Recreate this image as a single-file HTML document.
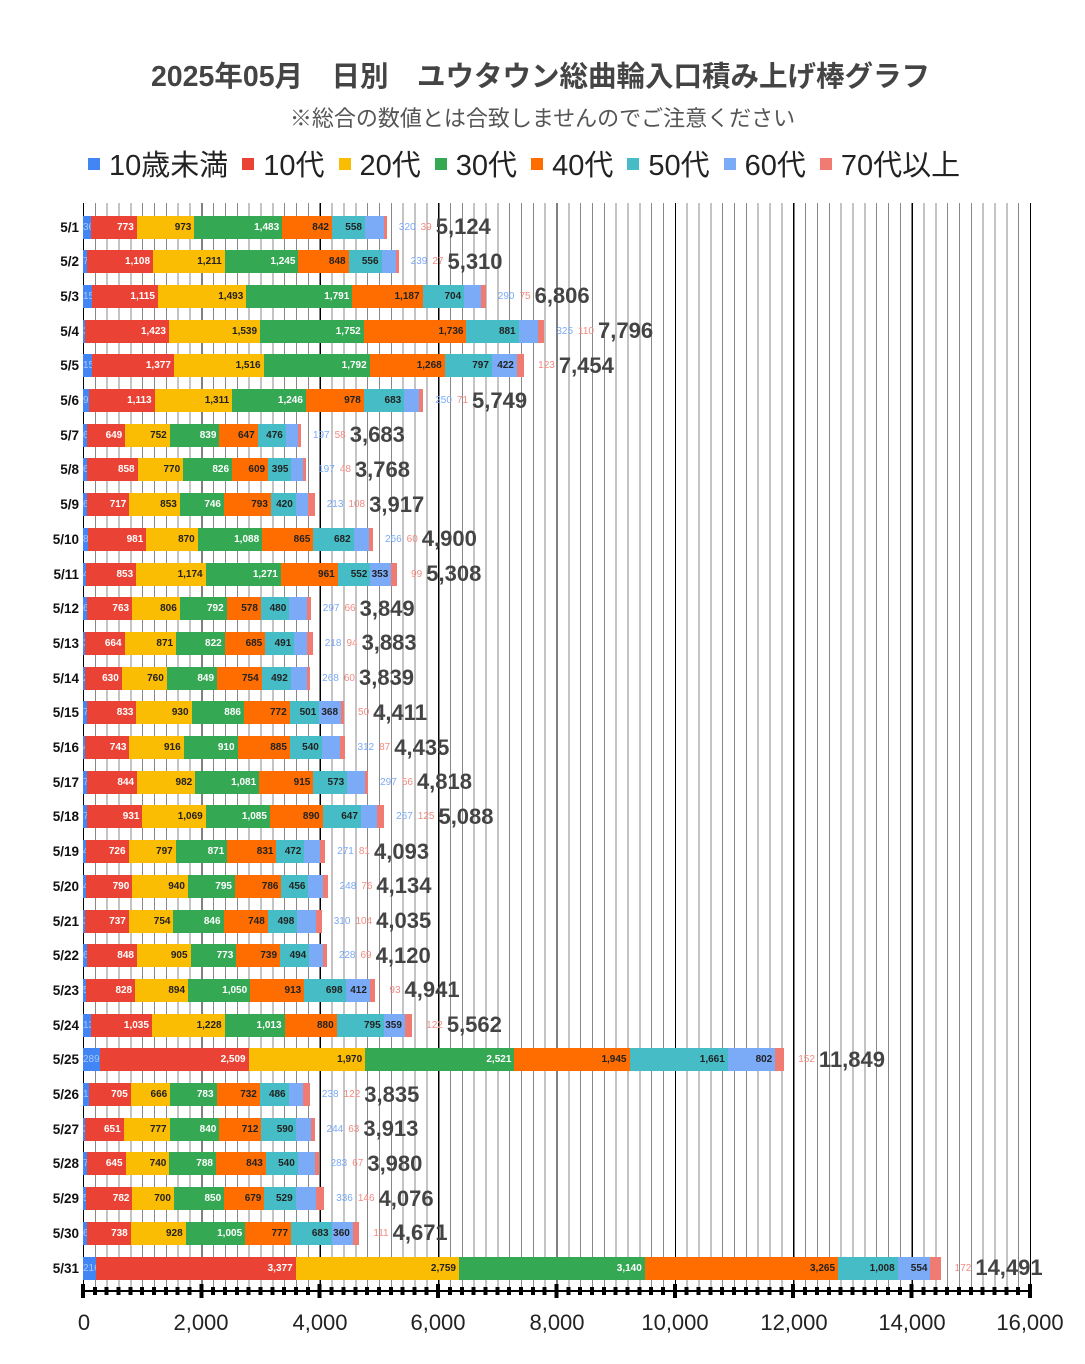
<!DOCTYPE html>
<html><head><meta charset="utf-8"><style>
*{margin:0;padding:0;box-sizing:border-box}
body{width:1085px;height:1364px;background:#fff;position:relative;overflow:hidden;font-family:"Liberation Sans","Noto Sans CJK JP",sans-serif}
.title{position:absolute;top:54px;left:0;width:1085px;text-align:center;font-size:28.5px;font-weight:bold;color:#444;padding-right:4px}
.sub{position:absolute;top:101px;left:0;width:1085px;text-align:center;font-size:22px;color:#555}
.leg{position:absolute;top:142px;left:88px;font-size:29px;color:#222;white-space:nowrap}
.leg span{margin-right:14px}
.leg b{display:inline-block;width:12px;height:12px;margin-right:9px;vertical-align:5px}
.grid{position:absolute;left:83px;top:203px;width:949px;height:1088px;
background:repeating-linear-gradient(90deg,#000 0,#000 1.2px,transparent 1.2px,transparent 118.375px),
repeating-linear-gradient(90deg,#888 0,#888 1px,transparent 1px,transparent 11.8375px)}
.axis{position:absolute;left:82px;top:1290px;width:950px;height:2px;background:#000}
.ticks{position:absolute;left:81px;top:1287px;width:953px;height:8px;
background:repeating-linear-gradient(90deg,#000 0,#000 4px,transparent 4px,transparent 11.8375px)}
.mticks{position:absolute;left:81px;top:1284px;width:953px;height:14px;
background:repeating-linear-gradient(90deg,#000 0,#000 4px,transparent 4px,transparent 118.375px)}
.xl{position:absolute;top:1310px;font-size:22px;color:#222;width:100px;text-align:center;margin-left:-50px}
.r{position:absolute;left:83px;height:23px;display:flex;align-items:center;white-space:nowrap}
.d{position:absolute;right:100%;margin-right:4px;font-size:13.5px;font-weight:bold;color:#111;z-index:2}
.b{display:flex;height:23px}
.b i{font-style:normal;display:flex;justify-content:flex-end;align-items:center;height:23px;width:calc(var(--v)*0.0591875px);font-size:10px;font-weight:bold;padding-right:3px;overflow:hidden;flex:none}
.b i.c0{overflow:visible;justify-content:flex-start;padding:0;color:#a8c7fa;font-weight:normal;background:#4285f4}
.c1{background:#ea4335;color:#fff}.c2{background:#fbbc04;color:#222}.c3{background:#34a853;color:#fff}
.c4{background:#ff6d01;color:#222}.c5{background:#46bdc6;color:#222}.c6{background:#7baaf7;color:#222}.c7{background:#f07b72}
.o6{font-size:10px;color:#7baaf7;margin-left:12px}
.o7{font-size:10px;color:#f28b82;margin-left:5px}
.t{font-size:22px;font-weight:bold;color:#444;margin-left:4px}
.first{margin-left:14px}
</style></head><body>
<div class="title">2025年05月　日別　ユウタウン総曲輪入口積み上げ棒グラフ</div>
<div class="sub">※総合の数値とは合致しませんのでご注意ください</div>
<div class="leg"><span><b style="background:#4285f4"></b>10歳未満</span><span><b style="background:#ea4335"></b>10代</span><span><b style="background:#fbbc04"></b>20代</span><span><b style="background:#34a853"></b>30代</span><span><b style="background:#ff6d01"></b>40代</span><span><b style="background:#46bdc6"></b>50代</span><span><b style="background:#7baaf7"></b>60代</span><span><b style="background:#f07b72"></b>70代以上</span></div>
<div class="grid"></div>
<div class="axis"></div><div class="ticks"></div><div class="mticks"></div>
<div class="xl" style="left:84px">0</div><div class="xl" style="left:201px">2,000</div><div class="xl" style="left:320px">4,000</div><div class="xl" style="left:438px">6,000</div><div class="xl" style="left:557px">8,000</div><div class="xl" style="left:675px">10,000</div><div class="xl" style="left:794px">12,000</div><div class="xl" style="left:912px">14,000</div><div class="xl" style="left:1030px">16,000</div>

<div class="r" style="top:215.5px"><span class="d">5/1</span><div class="b"><i class="c0" style="--v:136">36</i><i class="c1" style="--v:773">773</i><i class="c2" style="--v:973">973</i><i class="c3" style="--v:1483">1,483</i><i class="c4" style="--v:842">842</i><i class="c5" style="--v:558">558</i><i class="c6" style="--v:320"></i><i class="c7" style="--v:39"></i></div><span class="o6">320</span><span class="o7">39</span><span class="t">5,124</span></div>
<div class="r" style="top:250.2px"><span class="d">5/2</span><div class="b"><i class="c0" style="--v:76">76</i><i class="c1" style="--v:1108">1,108</i><i class="c2" style="--v:1211">1,211</i><i class="c3" style="--v:1245">1,245</i><i class="c4" style="--v:848">848</i><i class="c5" style="--v:556">556</i><i class="c6" style="--v:239"></i><i class="c7" style="--v:27"></i></div><span class="o6">239</span><span class="o7">27</span><span class="t">5,310</span></div>
<div class="r" style="top:284.9px"><span class="d">5/3</span><div class="b"><i class="c0" style="--v:151">151</i><i class="c1" style="--v:1115">1,115</i><i class="c2" style="--v:1493">1,493</i><i class="c3" style="--v:1791">1,791</i><i class="c4" style="--v:1187">1,187</i><i class="c5" style="--v:704">704</i><i class="c6" style="--v:290"></i><i class="c7" style="--v:75"></i></div><span class="o6">290</span><span class="o7">75</span><span class="t">6,806</span></div>
<div class="r" style="top:319.6px"><span class="d">5/4</span><div class="b"><i class="c0" style="--v:30">30</i><i class="c1" style="--v:1423">1,423</i><i class="c2" style="--v:1539">1,539</i><i class="c3" style="--v:1752">1,752</i><i class="c4" style="--v:1736">1,736</i><i class="c5" style="--v:881">881</i><i class="c6" style="--v:325"></i><i class="c7" style="--v:110"></i></div><span class="o6">325</span><span class="o7">110</span><span class="t">7,796</span></div>
<div class="r" style="top:354.3px"><span class="d">5/5</span><div class="b"><i class="c0" style="--v:159">159</i><i class="c1" style="--v:1377">1,377</i><i class="c2" style="--v:1516">1,516</i><i class="c3" style="--v:1792">1,792</i><i class="c4" style="--v:1268">1,268</i><i class="c5" style="--v:797">797</i><i class="c6" style="--v:422">422</i><i class="c7" style="--v:123"></i></div><span class="o7 first">123</span><span class="t">7,454</span></div>
<div class="r" style="top:389.0px"><span class="d">5/6</span><div class="b"><i class="c0" style="--v:97">97</i><i class="c1" style="--v:1113">1,113</i><i class="c2" style="--v:1311">1,311</i><i class="c3" style="--v:1246">1,246</i><i class="c4" style="--v:978">978</i><i class="c5" style="--v:683">683</i><i class="c6" style="--v:250"></i><i class="c7" style="--v:71"></i></div><span class="o6">250</span><span class="o7">71</span><span class="t">5,749</span></div>
<div class="r" style="top:423.7px"><span class="d">5/7</span><div class="b"><i class="c0" style="--v:65">65</i><i class="c1" style="--v:649">649</i><i class="c2" style="--v:752">752</i><i class="c3" style="--v:839">839</i><i class="c4" style="--v:647">647</i><i class="c5" style="--v:476">476</i><i class="c6" style="--v:197"></i><i class="c7" style="--v:58"></i></div><span class="o6">197</span><span class="o7">58</span><span class="t">3,683</span></div>
<div class="r" style="top:458.4px"><span class="d">5/8</span><div class="b"><i class="c0" style="--v:65">65</i><i class="c1" style="--v:858">858</i><i class="c2" style="--v:770">770</i><i class="c3" style="--v:826">826</i><i class="c4" style="--v:609">609</i><i class="c5" style="--v:395">395</i><i class="c6" style="--v:197"></i><i class="c7" style="--v:48"></i></div><span class="o6">197</span><span class="o7">48</span><span class="t">3,768</span></div>
<div class="r" style="top:493.1px"><span class="d">5/9</span><div class="b"><i class="c0" style="--v:67">67</i><i class="c1" style="--v:717">717</i><i class="c2" style="--v:853">853</i><i class="c3" style="--v:746">746</i><i class="c4" style="--v:793">793</i><i class="c5" style="--v:420">420</i><i class="c6" style="--v:213"></i><i class="c7" style="--v:108"></i></div><span class="o6">213</span><span class="o7">108</span><span class="t">3,917</span></div>
<div class="r" style="top:527.8px"><span class="d">5/10</span><div class="b"><i class="c0" style="--v:88">88</i><i class="c1" style="--v:981">981</i><i class="c2" style="--v:870">870</i><i class="c3" style="--v:1088">1,088</i><i class="c4" style="--v:865">865</i><i class="c5" style="--v:682">682</i><i class="c6" style="--v:266"></i><i class="c7" style="--v:60"></i></div><span class="o6">266</span><span class="o7">60</span><span class="t">4,900</span></div>
<div class="r" style="top:562.5px"><span class="d">5/11</span><div class="b"><i class="c0" style="--v:45">45</i><i class="c1" style="--v:853">853</i><i class="c2" style="--v:1174">1,174</i><i class="c3" style="--v:1271">1,271</i><i class="c4" style="--v:961">961</i><i class="c5" style="--v:552">552</i><i class="c6" style="--v:353">353</i><i class="c7" style="--v:99"></i></div><span class="o7 first">99</span><span class="t">5,308</span></div>
<div class="r" style="top:597.2px"><span class="d">5/12</span><div class="b"><i class="c0" style="--v:67">67</i><i class="c1" style="--v:763">763</i><i class="c2" style="--v:806">806</i><i class="c3" style="--v:792">792</i><i class="c4" style="--v:578">578</i><i class="c5" style="--v:480">480</i><i class="c6" style="--v:297"></i><i class="c7" style="--v:66"></i></div><span class="o6">297</span><span class="o7">66</span><span class="t">3,849</span></div>
<div class="r" style="top:631.9px"><span class="d">5/13</span><div class="b"><i class="c0" style="--v:38">38</i><i class="c1" style="--v:664">664</i><i class="c2" style="--v:871">871</i><i class="c3" style="--v:822">822</i><i class="c4" style="--v:685">685</i><i class="c5" style="--v:491">491</i><i class="c6" style="--v:218"></i><i class="c7" style="--v:94"></i></div><span class="o6">218</span><span class="o7">94</span><span class="t">3,883</span></div>
<div class="r" style="top:666.6px"><span class="d">5/14</span><div class="b"><i class="c0" style="--v:26">26</i><i class="c1" style="--v:630">630</i><i class="c2" style="--v:760">760</i><i class="c3" style="--v:849">849</i><i class="c4" style="--v:754">754</i><i class="c5" style="--v:492">492</i><i class="c6" style="--v:268"></i><i class="c7" style="--v:60"></i></div><span class="o6">268</span><span class="o7">60</span><span class="t">3,839</span></div>
<div class="r" style="top:701.3px"><span class="d">5/15</span><div class="b"><i class="c0" style="--v:71">71</i><i class="c1" style="--v:833">833</i><i class="c2" style="--v:930">930</i><i class="c3" style="--v:886">886</i><i class="c4" style="--v:772">772</i><i class="c5" style="--v:501">501</i><i class="c6" style="--v:368">368</i><i class="c7" style="--v:50"></i></div><span class="o7 first">50</span><span class="t">4,411</span></div>
<div class="r" style="top:736.0px"><span class="d">5/16</span><div class="b"><i class="c0" style="--v:42">42</i><i class="c1" style="--v:743">743</i><i class="c2" style="--v:916">916</i><i class="c3" style="--v:910">910</i><i class="c4" style="--v:885">885</i><i class="c5" style="--v:540">540</i><i class="c6" style="--v:312"></i><i class="c7" style="--v:87"></i></div><span class="o6">312</span><span class="o7">87</span><span class="t">4,435</span></div>
<div class="r" style="top:770.7px"><span class="d">5/17</span><div class="b"><i class="c0" style="--v:70">70</i><i class="c1" style="--v:844">844</i><i class="c2" style="--v:982">982</i><i class="c3" style="--v:1081">1,081</i><i class="c4" style="--v:915">915</i><i class="c5" style="--v:573">573</i><i class="c6" style="--v:297"></i><i class="c7" style="--v:56"></i></div><span class="o6">297</span><span class="o7">56</span><span class="t">4,818</span></div>
<div class="r" style="top:805.4px"><span class="d">5/18</span><div class="b"><i class="c0" style="--v:74">74</i><i class="c1" style="--v:931">931</i><i class="c2" style="--v:1069">1,069</i><i class="c3" style="--v:1085">1,085</i><i class="c4" style="--v:890">890</i><i class="c5" style="--v:647">647</i><i class="c6" style="--v:267"></i><i class="c7" style="--v:125"></i></div><span class="o6">267</span><span class="o7">125</span><span class="t">5,088</span></div>
<div class="r" style="top:840.1px"><span class="d">5/19</span><div class="b"><i class="c0" style="--v:44">44</i><i class="c1" style="--v:726">726</i><i class="c2" style="--v:797">797</i><i class="c3" style="--v:871">871</i><i class="c4" style="--v:831">831</i><i class="c5" style="--v:472">472</i><i class="c6" style="--v:271"></i><i class="c7" style="--v:81"></i></div><span class="o6">271</span><span class="o7">81</span><span class="t">4,093</span></div>
<div class="r" style="top:874.8px"><span class="d">5/20</span><div class="b"><i class="c0" style="--v:43">43</i><i class="c1" style="--v:790">790</i><i class="c2" style="--v:940">940</i><i class="c3" style="--v:795">795</i><i class="c4" style="--v:786">786</i><i class="c5" style="--v:456">456</i><i class="c6" style="--v:248"></i><i class="c7" style="--v:76"></i></div><span class="o6">248</span><span class="o7">76</span><span class="t">4,134</span></div>
<div class="r" style="top:909.5px"><span class="d">5/21</span><div class="b"><i class="c0" style="--v:38">38</i><i class="c1" style="--v:737">737</i><i class="c2" style="--v:754">754</i><i class="c3" style="--v:846">846</i><i class="c4" style="--v:748">748</i><i class="c5" style="--v:498">498</i><i class="c6" style="--v:310"></i><i class="c7" style="--v:104"></i></div><span class="o6">310</span><span class="o7">104</span><span class="t">4,035</span></div>
<div class="r" style="top:944.2px"><span class="d">5/22</span><div class="b"><i class="c0" style="--v:64">64</i><i class="c1" style="--v:848">848</i><i class="c2" style="--v:905">905</i><i class="c3" style="--v:773">773</i><i class="c4" style="--v:739">739</i><i class="c5" style="--v:494">494</i><i class="c6" style="--v:228"></i><i class="c7" style="--v:69"></i></div><span class="o6">228</span><span class="o7">69</span><span class="t">4,120</span></div>
<div class="r" style="top:978.9px"><span class="d">5/23</span><div class="b"><i class="c0" style="--v:53">53</i><i class="c1" style="--v:828">828</i><i class="c2" style="--v:894">894</i><i class="c3" style="--v:1050">1,050</i><i class="c4" style="--v:913">913</i><i class="c5" style="--v:698">698</i><i class="c6" style="--v:412">412</i><i class="c7" style="--v:93"></i></div><span class="o7 first">93</span><span class="t">4,941</span></div>
<div class="r" style="top:1013.6px"><span class="d">5/24</span><div class="b"><i class="c0" style="--v:130">130</i><i class="c1" style="--v:1035">1,035</i><i class="c2" style="--v:1228">1,228</i><i class="c3" style="--v:1013">1,013</i><i class="c4" style="--v:880">880</i><i class="c5" style="--v:795">795</i><i class="c6" style="--v:359">359</i><i class="c7" style="--v:122"></i></div><span class="o7 first">122</span><span class="t">5,562</span></div>
<div class="r" style="top:1048.3px"><span class="d">5/25</span><div class="b"><i class="c0" style="--v:289">289</i><i class="c1" style="--v:2509">2,509</i><i class="c2" style="--v:1970">1,970</i><i class="c3" style="--v:2521">2,521</i><i class="c4" style="--v:1945">1,945</i><i class="c5" style="--v:1661">1,661</i><i class="c6" style="--v:802">802</i><i class="c7" style="--v:152"></i></div><span class="o7 first">152</span><span class="t">11,849</span></div>
<div class="r" style="top:1083.0px"><span class="d">5/26</span><div class="b"><i class="c0" style="--v:103">103</i><i class="c1" style="--v:705">705</i><i class="c2" style="--v:666">666</i><i class="c3" style="--v:783">783</i><i class="c4" style="--v:732">732</i><i class="c5" style="--v:486">486</i><i class="c6" style="--v:238"></i><i class="c7" style="--v:122"></i></div><span class="o6">238</span><span class="o7">122</span><span class="t">3,835</span></div>
<div class="r" style="top:1117.7px"><span class="d">5/27</span><div class="b"><i class="c0" style="--v:36">36</i><i class="c1" style="--v:651">651</i><i class="c2" style="--v:777">777</i><i class="c3" style="--v:840">840</i><i class="c4" style="--v:712">712</i><i class="c5" style="--v:590">590</i><i class="c6" style="--v:244"></i><i class="c7" style="--v:63"></i></div><span class="o6">244</span><span class="o7">63</span><span class="t">3,913</span></div>
<div class="r" style="top:1152.4px"><span class="d">5/28</span><div class="b"><i class="c0" style="--v:74">74</i><i class="c1" style="--v:645">645</i><i class="c2" style="--v:740">740</i><i class="c3" style="--v:788">788</i><i class="c4" style="--v:843">843</i><i class="c5" style="--v:540">540</i><i class="c6" style="--v:283"></i><i class="c7" style="--v:67"></i></div><span class="o6">283</span><span class="o7">67</span><span class="t">3,980</span></div>
<div class="r" style="top:1187.1px"><span class="d">5/29</span><div class="b"><i class="c0" style="--v:54">54</i><i class="c1" style="--v:782">782</i><i class="c2" style="--v:700">700</i><i class="c3" style="--v:850">850</i><i class="c4" style="--v:679">679</i><i class="c5" style="--v:529">529</i><i class="c6" style="--v:336"></i><i class="c7" style="--v:146"></i></div><span class="o6">336</span><span class="o7">146</span><span class="t">4,076</span></div>
<div class="r" style="top:1221.8px"><span class="d">5/30</span><div class="b"><i class="c0" style="--v:69">69</i><i class="c1" style="--v:738">738</i><i class="c2" style="--v:928">928</i><i class="c3" style="--v:1005">1,005</i><i class="c4" style="--v:777">777</i><i class="c5" style="--v:683">683</i><i class="c6" style="--v:360">360</i><i class="c7" style="--v:111"></i></div><span class="o7 first">111</span><span class="t">4,671</span></div>
<div class="r" style="top:1256.5px"><span class="d">5/31</span><div class="b"><i class="c0" style="--v:216">216</i><i class="c1" style="--v:3377">3,377</i><i class="c2" style="--v:2759">2,759</i><i class="c3" style="--v:3140">3,140</i><i class="c4" style="--v:3265">3,265</i><i class="c5" style="--v:1008">1,008</i><i class="c6" style="--v:554">554</i><i class="c7" style="--v:172"></i></div><span class="o7 first">172</span><span class="t">14,491</span></div>
</body></html>
